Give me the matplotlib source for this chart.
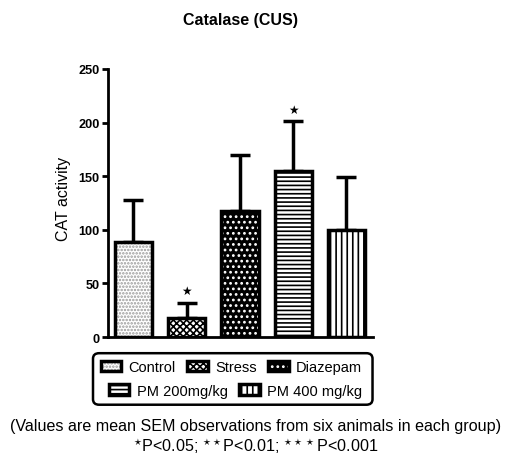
import numpy as np
import matplotlib.pyplot as plt
from matplotlib.patches import Patch, FancyBboxPatch
from matplotlib.legend_handler import HandlerTuple

plt.rcParams['font.family'] = ['Liberation Sans', 'DejaVu Sans']
plt.rcParams['mathtext.default'] = 'regular'
plt.rcParams['hatch.linewidth'] = 1.2

groups = ['Control', 'Stress', 'Diazepam', 'PM 200mg/kg', 'PM 400 mg/kg']
means = [89, 18, 118, 155, 100]
sem = [39, 14, 52, 46, 49]
signif = ['', '★', '', '★', '']

# face colour, hatch colour, hatch pattern
styles = [
    ('white', '#999999', '.....'),
    ('white', 'black', 'xxxxx'),
    ('black', 'white', '...'),
    ('white', 'black', '----'),
    ('white', 'black', '|||'),
]

fig = plt.figure(figsize=(5.11, 4.6), dpi=100)
ax = fig.add_axes([0.211, 0.265, 0.519, 0.583])

x = np.arange(len(groups))
w = 0.7
handles = []
for i in range(len(groups)):
    fc, hc, hp = styles[i]
    ax.errorbar(x[i], means[i], yerr=[[0], [sem[i]]], fmt='none', ecolor='black',
                elinewidth=2.5, capsize=7, capthick=2.5, zorder=1)
    ax.bar(x[i], means[i], w, color=fc, edgecolor=hc, hatch=hp, linewidth=0, zorder=2)
    ax.bar(x[i], means[i], w, facecolor='none', edgecolor='black', linewidth=2.5, zorder=3)
    if signif[i]:
        ax.text(x[i], means[i] + sem[i] + 5, signif[i], ha='center', va='bottom',
                fontsize=8.5, family='DejaVu Sans')
    h1 = Patch(facecolor=fc, edgecolor=hc, hatch=hp, linewidth=0)
    h2 = Patch(facecolor='none', edgecolor='black', linewidth=2.5)
    handles.append((h1, h2))

ax.set_xlim(-0.48, 4.5)
ax.set_ylim(0, 250)
ax.set_yticks([0, 50, 100, 150, 200, 250])
ax.set_xticks([])
for s in ['top', 'right']:
    ax.spines[s].set_visible(False)
for s in ['left', 'bottom']:
    ax.spines[s].set_linewidth(2)
ax.tick_params(axis='y', width=2, length=4, labelsize=9.2, pad=2)
for lab in ax.get_yticklabels():
    lab.set_fontweight('bold')
ax.set_ylabel('CAT activity', fontsize=11.5)
ax.yaxis.set_label_coords(-0.14, 0.52)
ax.set_title('Catalase (CUS)', fontsize=11.5, fontweight='bold', pad=32)

hmap = {tuple: HandlerTuple(ndivide=1, pad=0)}
legkw = dict(handler_map=hmap, loc='center', fontsize=10.5, frameon=False,
             handlelength=1.4, handleheight=0.75, handletextpad=0.5,
             columnspacing=0.8, borderpad=0, borderaxespad=0)
leg1 = fig.legend(handles[:3], groups[:3], ncol=3, bbox_to_anchor=(0.453, 0.200), **legkw)
leg2 = fig.legend(handles[3:], groups[3:], ncol=2, bbox_to_anchor=(0.461, 0.148), **legkw)

box = FancyBboxPatch((0.182, 0.118), 0.547, 0.112, boxstyle='round,pad=0,rounding_size=0.012',
                     transform=fig.transFigure, facecolor='none', edgecolor='black',
                     linewidth=1.8)
fig.patches.append(box)

fig.text(0.5, 0.072, '(Values are mean SEM observations from six animals in each group)',
         ha='center', va='center', fontsize=11.6)
fig.text(0.5, 0.03, r'$^{\star}$P<0.05; $^{\star\star}$P<0.01; $^{\star\star\star}$P<0.001',
         ha='center', va='center', fontsize=11.6)

fig.savefig('out.png', dpi=100)
